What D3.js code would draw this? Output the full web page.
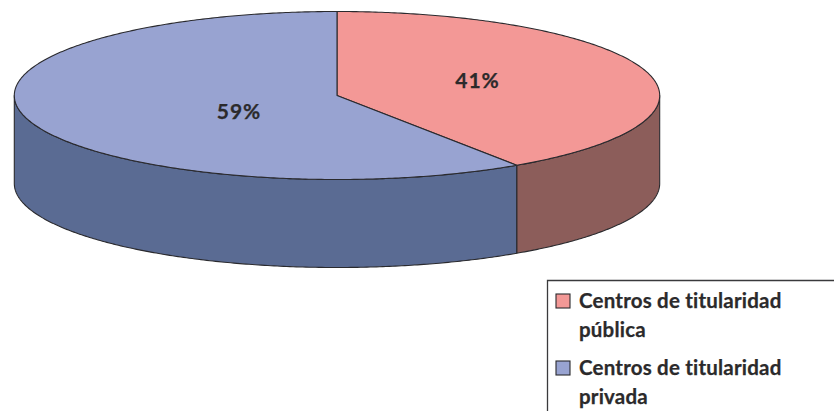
<!DOCTYPE html>
<html><head><meta charset="utf-8">
<script src="https://cdn.jsdelivr.net/npm/d3@7/dist/d3.min.js"></script>
<style>html,body{margin:0;padding:0;background:#fff;overflow:hidden}svg{display:block}
text{font-family:"Lato",sans-serif;font-weight:700;fill:#2b2a2b;stroke:#2b2a2b;stroke-width:0.25px}</style></head>
<body><svg id="c" width="834" height="411"></svg>
<script>
const categories = ["Centros de titularidad pública", "Centros de titularidad privada"];
const legendLines = [["Centros de titularidad", "pública"], ["Centros de titularidad", "privada"]];
const shares = [40.6, 59.4];
const shareLabels = ["41%", "59%"];
const topColors = ["#f39896", "#98a3d1"];
const sideColors = ["#8c5d5a", "#5a6b93"];

const W = 834, H = 411, cx = 337, cy = 95.5, rx = 322.7, ry = 84, depth = 88;
const strokeCol = "#2a2a2e";
const svg = d3.select("#c");
const arcs = d3.pie().sort(null)(shares);
const px = d3.scaleLinear().domain([-1, 1]).range([cx - rx, cx + rx]);
const py = d3.scaleLinear().domain([-1, 1]).range([cy - ry, cy + ry]);
const pt = (a, dy = 0) => [px(Math.sin(a)), py(-Math.cos(a)) + dy];
const samples = (a0, a1, dy = 0) => {
  const n = Math.max(2, Math.ceil(Math.abs(a1 - a0) / 0.01));
  return d3.range(n + 1).map(i => pt(a0 + (a1 - a0) * i / n, dy));
};
const line = d3.line();

arcs.forEach((d, i) => {
  const a0 = Math.max(d.startAngle, Math.PI / 2), a1 = Math.min(d.endAngle, 1.5 * Math.PI);
  if (a1 <= a0) return;
  const poly = samples(a0, a1, 0).concat(samples(a1, a0, depth));
  svg.append("path").attr("d", line(poly) + "Z").attr("fill", sideColors[i])
    .attr("stroke", strokeCol).attr("stroke-width", 1.1).attr("stroke-linejoin", "round");
});
arcs.forEach((d, i) => {
  const poly = [[cx, cy]].concat(samples(d.startAngle, d.endAngle));
  svg.append("path").attr("d", line(poly) + "Z").attr("fill", topColors[i])
    .attr("stroke", strokeCol).attr("stroke-width", 1.1).attr("stroke-linejoin", "round");
});
const labelAnchor = [[477.5, 88], [239, 118.5]];
shareLabels.forEach((t, i) => {
  svg.append("text").attr("x", labelAnchor[i][0]).attr("y", labelAnchor[i][1])
    .attr("text-anchor", "middle").attr("font-size", 21).attr("letter-spacing", 0.9).text(t);
});
svg.append("path").attr("d", "M547.5,411V280.5H834").attr("fill", "none")
  .attr("stroke", "#3a3a3c").attr("stroke-width", 1.3);
const swatchY = [294, 361], lineY = [[308, 337], [375, 404]];
categories.forEach((c, i) => {
  svg.append("rect").attr("x", 556).attr("y", swatchY[i]).attr("width", 14).attr("height", 14)
    .attr("fill", topColors[i]).attr("stroke", strokeCol).attr("stroke-width", 1.1);
  legendLines[i].forEach((t, j) => {
    svg.append("text").attr("x", 579).attr("y", lineY[i][j]).attr("font-size", 20.5).attr("letter-spacing", 0.2).text(t);
  });
});
</script></body></html>
